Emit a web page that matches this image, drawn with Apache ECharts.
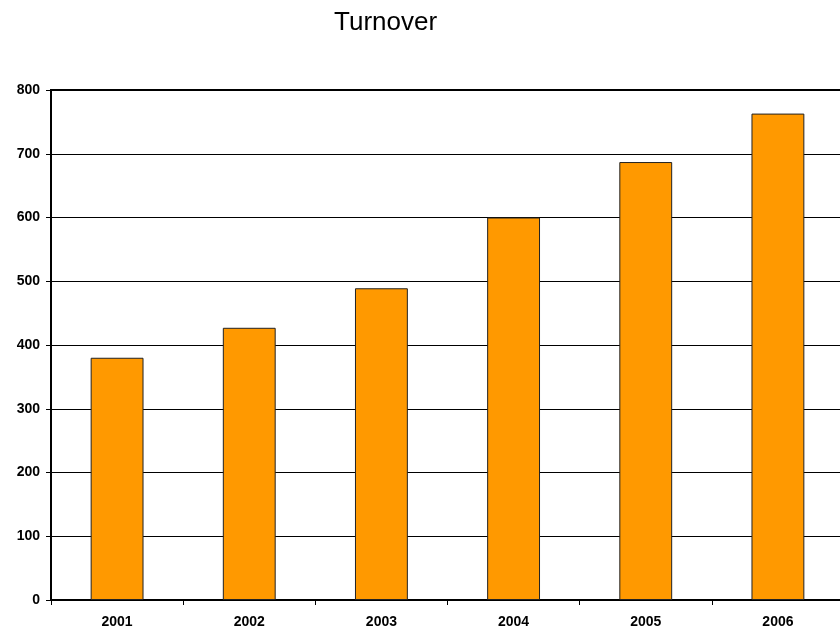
<!DOCTYPE html>
<html>
<head>
<meta charset="utf-8">
<script src="https://cdn.jsdelivr.net/npm/echarts@6/dist/echarts.min.js"></script>
<style>
  html, body { margin: 0; padding: 0; background: #fff; }
  #chart { width: 840px; height: 633px; }
</style>
</head>
<body>
<div id="chart"></div>
<script>
// Yearly turnover figures
const years = ['2001', '2002', '2003', '2004', '2005', '2006'];
const turnover = [380, 427, 489, 600, 687, 763];
const yTicks = { min: 0, max: 800, interval: 100 };

const chart = echarts.init(document.getElementById('chart'));
const labelFont = { fontFamily: 'Liberation Sans, Arial, sans-serif', fontWeight: 'bold', fontSize: 14, color: '#000' };

chart.setOption({
  animation: false,
  backgroundColor: '#fff',
  title: {
    text: 'Turnover',
    left: 329,
    top: 5,
    textStyle: { fontFamily: 'Liberation Sans, Arial, sans-serif', fontWeight: 'normal', fontSize: 26, color: '#000' }
  },
  // plot area runs past the right edge of the canvas
  grid: {
    left: 51, width: 793, top: 90, height: 510,
    outerBoundsMode: 'none', containLabel: false,
    show: true, borderColor: '#000', borderWidth: 2, backgroundColor: 'transparent'
  },
  xAxis: {
    type: 'category',
    data: years,
    axisLine: { lineStyle: { color: '#000', width: 1.5 } },
    axisTick: { show: true, length: 5, lineStyle: { color: '#000' } },
    axisLabel: Object.assign({ margin: 15 }, labelFont)
  },
  yAxis: {
    type: 'value',
    min: yTicks.min,
    max: yTicks.max,
    interval: yTicks.interval,
    axisLine: { show: true, lineStyle: { color: '#000', width: 1.5 } },
    axisTick: { show: true, length: 5, lineStyle: { color: '#000' } },
    axisLabel: Object.assign({ margin: 11 }, labelFont),
    splitLine: { show: true, lineStyle: { color: '#000', width: 1 } }
  },
  series: [{
    type: 'bar',
    data: turnover,
    barWidth: '40%',
    itemStyle: { color: '#FF9900', borderColor: '#222', borderWidth: 1 }
  }]
});
</script>
</body>
</html>
